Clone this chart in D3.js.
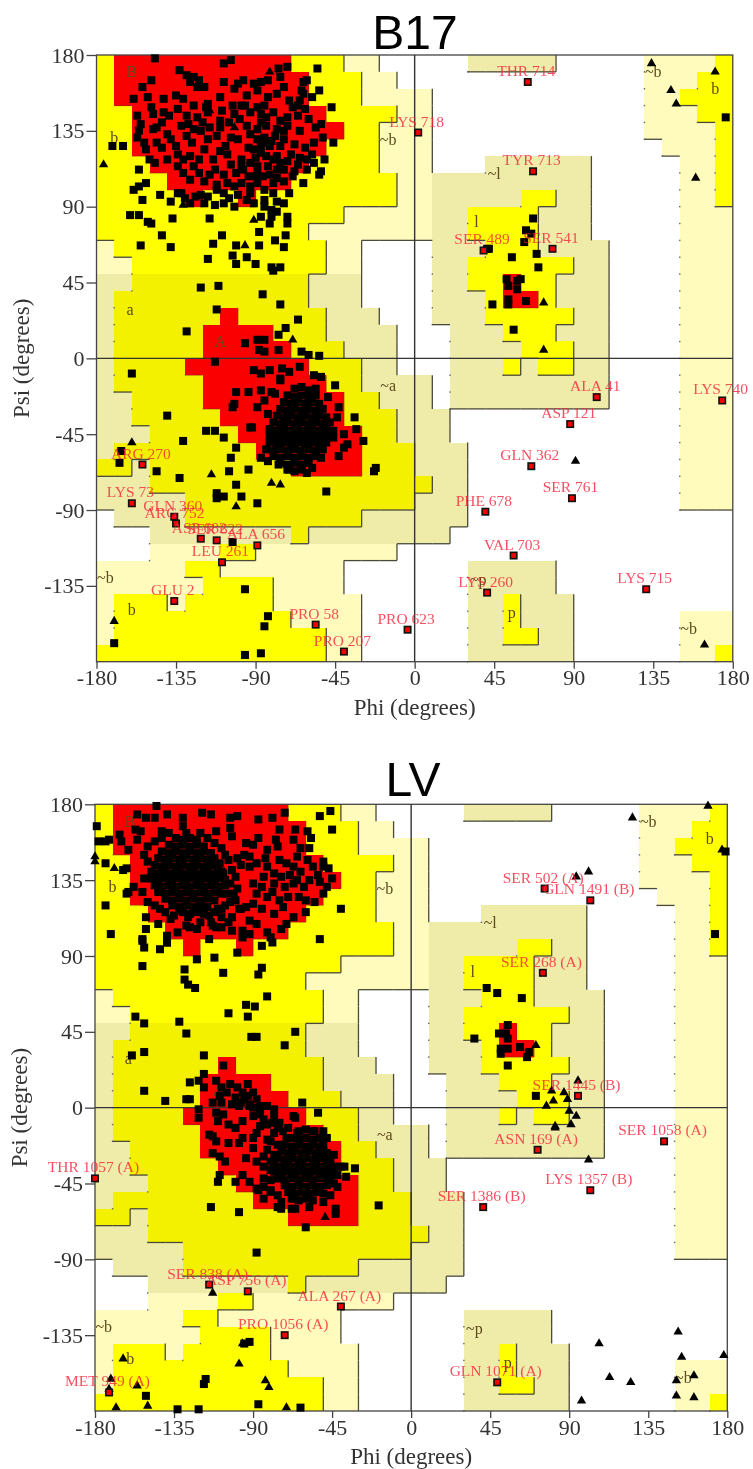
<!DOCTYPE html>
<html>
<head>
<meta charset="utf-8">
<title>Ramachandran plots B17 and LV</title>
<script src="https://cdn.jsdelivr.net/npm/d3@7/dist/d3.min.js"></script>
<style>
  body { margin: 0; background: #fff; }
  svg { display: block; filter: blur(0.4px); }
  text { font-family: "Liberation Serif", serif; }
</style>
</head>
<body>
<svg id="chart" width="753" height="1469"></svg>
<script>
// region map, one row for every 10 degrees of psi (170 at the top, -180 at the bottom)
// . disallowed  p generous  q generous (tinted)  y allowed  o allowed (tinted)  r core
let regionRows = [
  'yrrrrrrrrrryyypp..' + '...qqqqq.....ppppy',
  'yrrrrrrrrrrryyypp.' + '.............pppyy',
  'yrrrrrrrrrrryyyppp' + 'p............ppyyy',
  'yyrrrrrrrrrrryyyyp' + 'p............pppyy',
  'yyrrrrrrrrrrrryypp' + 'p............ppppy',
  'yyrrrrrrrrrrryyypp' + 'p.............pppy',
  'yyyrrrrrrrrryyyypp' + 'p...qqqqqq.....ppy',
  'yyyyrrrrrrryyyyyyp' + 'pqqqqqqqqq.....ppy',
  'yyyyyryyryyyyyyyyp' + 'pqqqqqyyqq.....ppy',
  'yyyyyyyyyyyyyypppp' + 'pqqyyyyqqq.....ppp',
  'yyyyyyyyyyyypppppp' + 'pqqyyyyqqq.....ppp',
  'pyyyyyyyyyyyypp...' + '.qqqyyyqqqq....ppp',
  'ppyyyyyyyyyyypp...' + '.qqyyyyyyqq....ppp',
  'qqooooooooooqqq...' + '.qqyyryyqqq....ppp',
  'qoooooooooooqqq...' + '.qqqyrryqqq....ppp',
  'qooooooroooooqqq..' + '.qqqyyyyyqq....ppp',
  'qooooorrrroooqqqq.' + '..qqqyyyqqq....ppp',
  'qooooorrrrroooqqq.' + '..qqqqyyyqq....ppp',
  'qoooorrrrrrroooqq.' + '..qqqyqyyqq....ppp',
  'qooooorrrrrrrooqqq' + 'q.qqqqqqqqq....ppp',
  'qqoooorrrrrrrrooqq' + 'q.qqqqqqqqq....ppp',
  'qqooooorrrrrrroooq' + 'qq.............ppp',
  'qqqooooorrrrrrrooq' + 'qq.............ppp',
  'qoooooooorrrrrrooo' + 'qqq............ppp',
  'ooqoooooooorrrrooo' + 'qqq............ppp',
  'qqqooooooooooooooo' + 'oqq............ppp',
  'qqqqqooooooooooooo' + 'qqq............ppp',
  '.qqqqooooooooooqqq' + 'qqq...............',
  '...qqqqqqqqoqqqqqq' + 'qq................',
  '...ppppyypppppppp.' + '..................',
  'pppppyyppppppp....' + '...qqqqq..........',
  'ppppppyyyypppp....' + '...qqqqq..........',
  'pyyypyyyyyppppp...' + '...qqyqqq.........',
  'pyyyyyyyyyypppp...' + '...qqyqqq......ppp',
  'pyyyyyyyyyyyypp...' + '...qqyyqq......ppp',
  'yyyyyyyyyyyyypp...' + '...qqqqqq......ppy'
]
let regionColors = { p: '#fefbbd', q: '#efeba9', y: '#ffff00', o: '#f3f000', r: '#fb0000' }
let regionLevels = { '.': 0, p: 1, q: 1, y: 2, o: 2, r: 3 }

let phiTicks = [-180, -135, -90, -45, 0, 45, 90, 135, 180]
let psiTicks = [180, 135, 90, 45, 0, -45, -90, -135]

let regionLabels = [
  ['B', -160, 170], ['b', -170, 131], ['a', -161, 29], ['A', -110, 10], ['~b', -15, 130], ['~a', -15, -16],
  ['~b', -175, -130], ['b', -160, -149], ['l', 35, 81], ['~l', 45, 110], ['~b', 135, 170], ['b', 170, 160],
  ['p', 55, -151], ['~p', 36, -131], ['~b', 155, -160]
]

// B17 residues [phi, psi]
let b17Squares = [
  [-55,172],[-47,149],[-46,128],[-171,126],[-165,126],[-156,112],[-152,104],[-156,102],[-159,100],[-154,94],[-144,97],[-138,93],
  [-161,85],[-156,85],[-151,81],[-149,80],[-137,83],[-143,73],[-155,67],[-138,66],[-116,83],[-109,73],[-114,68],[-101,67],
  [-103,61],[-101,56],[-95,60],[-90,56],[-88,75],[-88,67],[-79,70],[-73,73],[-74,66],[-81,54],[-76,54],[-80,52],[-117,59],
  [-121,42],[-111,43],[-86,38],[-76,32],[-112,29],[-66,23],[-73,18],[-77,14],[-129,16],[-96,9],[-89,11],[-85,11],[-88,5],
  [-85,4],[-77,5],[-64,4],[-60,2],[-54,1.5],[-85,90],[-81,88],[-78,87],[-72,84],[-81,84],[-82,80],[-72,80],[-87,84],
  // beta cloud
  [-147,178],[-108,175],[-104,177],[-133,171],[-77,172],[-72,173],[-149,165],[-129,168],[-125,167],[-122,165],[-76,167],[-63,164],
  [-108,164],[-100,163],[-97,165],[-154,161],[-127,164],[-123,161],[-119,161],[-91,163],[-87,164],[-83,165],[-89,159],[-102,160],
  [-64,159],[-61,165],[-71,153],[-63,157],[-54,159],[-58,155],[-159,154],[-151,155],[-142,154],[-135,156],[-131,154],[-110,155],
  [-118,149],[-117,151],[-103,150],[-98,150],[-96,150],[-78,157],[-74,161],[-65,153],[-157,144],[-149,149],[-148,145],[-142,146],
  [-139,144],[-129,144],[-117,146],[-109,147],[-87,145],[-80,146],[-72,143],[-66,144],[-89,149],[-85,150],[-155,139],[-156,135],
  [-157,131],[-146,137],[-148,136],[-132,138],[-128,139],[-125,136],[-116,137],[-110,141],[-110,137],[-87,140],[-89,136],[-95,138],
  [-84,138],[-78,136],[-72,138],[-65,135],[-56,137],[-53,139],[-140,133],[-138,130],[-129,132],[-126,128],[-117,130],[-104,131],
  [-100,130],[-89,130],[-85,131],[-79,132],[-74,130],[-57,128],[-52,131],[-82,126],[-76,126],[-150,118],[-147,116],[-140,118],
  [-134,121],[-131,118],[-119,124],[-114,118],[-106,121],[-98,118],[-93,116],[-87,122],[-84,120],[-78,120],[-70,121],[-65,119],
  [-57,116],[-51,118],[-134,114],[-131,110],[-125,114],[-113,112],[-108,109],[-97,112],[-89,111],[-83,114],[-74,112],[-68,111],
  [-53,111],[-54,109],[-119,105],[-112,103],[-102,102],[-98,104],[-93,102],[-89,104],[-80,104],[-74,105],[-63,104],[-69,108],
  [-134,98],[-132,98],[-121,97],[-117,96],[-112,100],[-108,98],[-80,98],[-71,98],[-85,100],[-93,98],[-127,92],[-119,92],[-113,91],
  [-108,92],[-102,90],[-95,94],[-87,126],[-91,124],[-84,128],[-80,118],[-89,114],[-78,112],[-98,114],
  [-93,146],[-84,143],[-76,141],[-69,149],[-62,148],[-93,133],[-81,129],[-74,135],[-68,127],[-62,125],[-94,125],[-90,119],[-76,116],
  [-72,117],[-66,115],[-61,112],[-86,108],[-82,109],[-78,107],[-94,108],[-90,108],[-104,115],[-101,110],[-106,104],[-116,109],
  [-122,110],[-127,106],[-127,120],[-122,118],[-135,126],[-143,125],[-146,128],[-152,124],[-153,128],[-143,140],[-134,148],[-125,150],
  [-123,143],[-120,140],[-121,135],[-112,132],[-107,126],[-110,123],[-102,145],[-105,140],[-99,142],[-95,156],[-83,155],[-66,150],
  [-60,142],[-58,121],[-61,118],[-85,94],[-91,92],[-130,95],[-124,96],[-100,97],[-105,95],[-78,93],[-74,92],
  // alpha region scatter
  [-160,-9],[-113,-2],[-140,-34],[-131,-49],[-118,-43],[-113,-43],[-108,-47],[-101,-20],[-94,-20],[-102,-27],[-103,-29],[-93,-41],
  [-101,-53],[-104,-59],[-105,-67],[-94,-66],[-101,-75],[-112,-80],[-112,-83],[-108,-82],[-98,-82],[-89,-86],[-133,-71],[-146,-67],
  [-50,-79],[-34,-35],[-33,-42],[-29,-49],[-45,-16],[-22,-65],[-23,-67],[-167,-62],[-166,-55],[-103,-109],[-96,-137],[-83,-153],
  [-85,-159],[-96,-176],[-87,-175],[-170,-169],
  [-91,-7],[-87,-9],[-82,-7],[-75,-6],[-71,-8],[-65,-5],[-76,-12],[-87,-19],[-81,-20],[-85,-25],[-89,-29],[-83,-33],[-82,-43],
  [-77,-48],[-82,-49],[-87,-59],[-83,-61],[-77,-63],[-71,-66],[-61,-68],[-58,-65],[-92,-41],[-76,-13],[-79,-21],[-40,-53],[-43,-58],
  [-44,-35],[-40,-45],[-38,-51],[-53,-11],[-57,-10],[-49,-23],[-43,-29],
  // alpha core
  [-68,-18],[-64,-17],[-60,-19],[-56,-18],[-72,-22],[-68,-23],[-64,-22],[-60,-23],[-56,-22],[-74,-26],[-70,-27],[-66,-26],[-62,-27],
  [-58,-26],[-54,-27],[-76,-30],[-72,-31],[-68,-30],[-64,-31],[-60,-30],[-56,-31],[-52,-30],[-78,-34],[-74,-35],[-70,-34],[-66,-35],
  [-62,-34],[-58,-35],[-54,-34],[-50,-35],[-80,-38],[-76,-39],[-72,-38],[-68,-39],[-64,-38],[-60,-39],[-56,-38],[-52,-39],[-48,-38],
  [-82,-42],[-78,-43],[-74,-42],[-70,-43],[-66,-42],[-62,-43],[-58,-42],[-54,-43],[-50,-42],[-46,-43],[-82,-46],[-78,-47],[-74,-46],
  [-70,-47],[-66,-46],[-62,-47],[-58,-46],[-54,-47],[-50,-46],[-46,-47],[-82,-50],[-78,-51],[-74,-50],[-70,-51],[-66,-50],[-62,-51],
  [-58,-50],[-54,-51],[-50,-50],[-84,-54],[-80,-55],[-76,-54],[-72,-55],[-68,-54],[-64,-55],[-60,-54],[-56,-55],[-52,-54],[-80,-58],
  [-76,-59],[-72,-58],[-68,-59],[-64,-58],[-60,-59],[-56,-58],[-53,-59],[-76,-62],[-72,-63],[-68,-62],[-64,-63],[-60,-62],[-72,-66],
  [-68,-67],[-64,-66],
  // right half
  [67,83],[63,76],[66,74],[62,69],[69,62],[42,65],[41,65],[55,60],[70,54],[44,32],[56,17],[52,47],[60,47],[58,46],[53,43],[58,41],
  [53,35],[53,32],[63,34],[176,143]
]
let b17Triangles = [
  [-176,115],[-91,82],[-96,67],[-82,170],[-102,137],[-116,147],[-131,91],[-69,11],[-160,-50],[-115,-69],[-81,-74],[-76,-75],
  [-101,-88],[-170,-156],[73,33],[73,5],[134,175],[170,170],[145,159],[148,151],[159,107],[91,-61],[164,-170]
]
let b17Outliers = [
  ['THR 714',64,164],['LYS 718',2,134],['TYR 713',67,111],['SER 489',39,64],['SER 541',78,65],['ALA 41',103,-23],['ASP 121',88,-39],
  ['GLN 362',66,-64],['SER 761',89,-83],['PHE 678',40,-91],['VAL 703',56,-117],['LYS 260',41,-139],['LYS 715',131,-137],
  ['LYS 740',174,-25],['PRO 623',-4,-161],['ARG 270',-154,-63],['LYS 73',-160,-86],['GLN 360',-136,-94],['ARG 752',-135,-98],
  ['ASP 682',-121,-107],['SER 622',-112,-108],['ALA 656',-89,-111],['LEU 261',-109,-121],['GLU 2',-136,-144],['PRO 58',-56,-158],
  ['PRO 207',-40,-174]
]

// LV residues [phi, psi]
let lvSquares = [
  [-145,179],[-179,167],[-178,158],[-174,158],[-172,159],[-174,145],[-174,120],[-171,103],[-52,173],[-46,176],[-45,165],[-40,118],
  [-52,100],[-85,96],[-85,83],[-87,79],[-107,80],[-112,89],[-122,88],[-129,82],[-129,76],[-127,73],[-123,71],[-153,84],[-153,99],
  [-152,95],[-143,94],[-139,98],[-139,102],[-82,66],[-94,61],[-89,60],[-93,54],[-104,56],[-157,54],[-152,50],[-132,51],[-128,44],
  [-91,42],[-88,42],[-72,37],[-66,45],[-152,33],[-159,31],[-118,31],[-107,25],[-152,10],[-140,4],[-128,5],[-126,5],[-126,15],
  [-121,16],[-118,12],[-118,20],[-62,3],[-53,-3],
  [-55,-14],[-32,-36],[-38,-35],[-37,-41],[-18.5,-58],[-43,-63],[-43,-60],[-60,-71],[-88,-86],[-98,-62],[-114,-59],[-58,-59],
  [-66,-60],[-74,-60],[-76,-59],[-84,-54],[-88,-48],[-80,-49],
  [-92,-139],[-95,-140],[-117,-161],[-118,-164],[-151,-171],[-133,-179],[-121,-179],[-87,-176],[-63,-178],
  // alpha diagonal
  [-121,-1],[-121,-6],[-111,-3],[-107,-4],[-98,1],[-92,2],[-86,0],[-90,-5],[-84,-7],[-78,-5],[-75,-9],[-66,-6],[-65,-15],[-78,-15],
  [-82,-19],[-88,-15],[-86,-11],[-96,-18],[-98,-21],[-104,-21],[-113,-17],[-115,-16],[-111,-20],[-90,-24],[-113,-27],[-109,-29],
  [-106,-32],[-109,-40],[-110,-44],[-100,-44],[-88,-32],[-84,-35],[-80,-37],[-87,-49],[-80,-50],[-66,-54],
  [-111,16],[-108,12],[-103,14],[-99,12],[-93,14],[-90,9],[-96,9],[-88,5],[-93,7],[-82,1],[-78,-1],[-113,3],[-108,3],[-102,2],
  [-109,7],[-97,3],[-86,1],[-92,1],[-67,-5],
  [-105,9],[-100,6],[-95,5],[-90,0],[-86,-4],[-82,-10],[-79,-9],[-76,-12],[-73,-14],[-80,-20],[-76,-22],[-82,-25],[-84,-29],[-78,-28],
  [-80,-32],[-84,-42],[-80,-43],[-84,-47],[-71,-18],[-70,-12],[-96,-8],[-100,-12],[-104,-10],[-110,-8],[-90,-18],[-94,-30],[-96,-40],[-92,-44],
  [-44,-45],[-42,-40],[-44,-28],[-48,-18],[-50,-14],[-76,-52],[-74,-56],[-68,-60],[-50,-56],[-46,-52],[-42,-47],[-40,-35],
  // alpha core
  [-64,-14],[-60,-13],[-56,-14],[-68,-18],[-64,-19],[-60,-18],[-56,-19],[-52,-18],[-72,-22],[-68,-23],[-64,-22],[-60,-23],[-56,-22],
  [-52,-23],[-50,-22],[-74,-26],[-70,-27],[-66,-26],[-62,-27],[-58,-26],[-54,-27],[-50,-26],[-48,-27],[-76,-30],[-72,-31],[-68,-30],
  [-64,-31],[-60,-30],[-56,-31],[-52,-30],[-48,-31],[-46,-30],[-78,-34],[-74,-35],[-70,-34],[-66,-35],[-62,-34],[-58,-35],[-54,-34],
  [-50,-35],[-46,-34],[-44,-35],[-78,-38],[-74,-39],[-70,-38],[-66,-39],[-62,-38],[-58,-39],[-54,-38],[-50,-39],[-46,-38],[-44,-39],
  [-76,-42],[-72,-43],[-68,-42],[-64,-43],[-60,-42],[-56,-43],[-52,-42],[-48,-43],[-46,-42],[-72,-46],[-68,-47],[-64,-46],[-60,-47],
  [-56,-46],[-52,-47],[-48,-46],[-70,-50],[-66,-51],[-62,-50],[-58,-51],[-54,-50],[-50,-51],[-68,-54],[-64,-55],[-60,-54],[-56,-55],
  // beta core
  [-134,160],[-130,159],[-126,160],[-122,159],[-138,156],[-134,155],[-130,156],[-126,155],[-122,156],[-118,155],[-142,152],[-138,151],
  [-134,152],[-130,151],[-126,152],[-122,151],[-118,152],[-114,151],[-144,148],[-140,147],[-136,148],[-132,147],[-128,148],[-124,147],
  [-120,148],[-116,147],[-112,148],[-146,144],[-142,143],[-138,144],[-134,143],[-130,144],[-126,143],[-122,144],[-118,143],[-114,144],
  [-110,143],[-148,140],[-144,139],[-140,140],[-136,139],[-132,140],[-128,139],[-124,140],[-120,139],[-116,140],[-112,139],[-108,140],
  [-148,136],[-144,135],[-140,136],[-136,135],[-132,136],[-128,135],[-124,136],[-120,135],[-116,136],[-112,135],[-108,136],[-106,135],
  [-146,132],[-142,131],[-138,132],[-134,131],[-130,132],[-126,131],[-122,132],[-118,131],[-114,132],[-110,131],[-106,132],[-144,128],
  [-140,127],[-136,128],[-132,127],[-128,128],[-124,127],[-120,128],[-116,127],[-112,128],[-108,127],[-140,124],[-136,123],[-132,124],
  [-128,123],[-124,124],[-120,123],[-116,124],[-112,123],[-136,120],[-132,119],[-128,120],[-124,119],[-120,120],[-116,119],[-130,116],
  [-126,115],[-122,116],[-118,115],
  // rest of the beta region
  [-156,174],[-151,172],[-146,172],[-139,174],[-130,172],[-119,175],[-114,174],[-103,172],[-99,173],[-87,171],[-79,172],[-72,175],
  [-166,162],[-165,158],[-161,153],[-157,165],[-154,164],[-156,159],[-142,164],[-130,167],[-111,164],[-103,166],[-102,161],[-75,165],
  [-66,165],[-59,164],[-57,160],[-67,159],[-87,160],[-90,156],[-94,157],[-77,159],[-76,155],[-82,153],[-83,148],[-99,148],[-97,144],
  [-92,143],[-58,154],[-63,154],[-50,146],[-47,142],[-65,149],[-59,147],[-50,143],[-75,147],[-71,145],[-67,143],[-82,143],[-78,139],
  [-162,142],[-164,141],[-158,131],[-162,127],[-161,128],[-50,127],[-55,122],[-60,123],[-58,135],[-61,131],[-67,133],[-72,131],[-78,133],
  [-84,137],[-90,133],[-88,127],[-82,125],[-75,123],[-67,113],[-78,115],[-90,121],[-94,119],[-97,118],[-100,123],[-107,139],[-103,133],
  [-105,127],[-109,145],
  [-151,113],[-151,106],[-144,109],[-135,114],[-132,117],[-127,113],[-133,104],[-126,107],[-115,114],[-118,117],[-114,110],[-108,113],
  [-111,107],[-102,113],[-104,110],[-98,118],[-96,105],[-96,101],[-88,109],[-82,104],[-80,101],[-79,98],[-153,100],[-139,98],[-99,92],
  [-115,100],[-108,107],[-102,105],[-92,111],
  [-152,150],[-150,146],[-152,136],[-153,128],[-150,122],[-146,120],[-143,118],[-140,116],[-137,112],[-150,155],[-146,158],[-142,160],
  [-138,163],[-128,163],[-120,163],[-116,160],[-112,157],[-108,154],[-106,150],[-104,147],[-102,141],[-100,137],[-99,130],[-101,127],
  [-103,122],[-106,120],[-108,118],[-110,118],[-112,116],[-113,108],[-120,110],[-122,106],[-128,108],[-95,150],[-92,149],[-88,145],
  [-85,131],[-79,128],[-74,137],[-69,138],[-65,135],[-63,140],[-56,143],[-53,138],[-45,136],[-48,131],[-52,134],[-70,125],[-73,119],
  [-64,125],[-60,116],[-71,109],[-74,106],[-85,118],[-92,103],
  // right half
  [43,71],[49,68],[63,65],[36,41],[55,25],[71,7],[55,49],[50,44],[54,44],[55,41],[51,35],[55,35],[51,32],[62,36],[66,30],[67,33],
  [179,152],[173,103]
]
let lvTriangles = [
  [-180,149],[-180,146],[-169,142],[-49,-65],[-113,-110],[-164,-149],[-98,-152],[-83,-162],[-81,-166],[-156,-165],[-171,-161],
  [-172,-167],[-168,-178],[-150,-177],[-71,-178],[-96,-140],
  [71,37],[95,16],[80,10],[87,9],[89,5],[81,4],[77,1],[90,-2],[94,-5],[91,-10],[82,-11],[126,172],[169,179],[94,137],[101,140],[177,153],
  [82,-12],[101,-31],[152,-133],[107,-140],[154,-148],[178,-147],[161,-159],[151,-162],[113,-160],[125,-163],[151,-171],[161,-172],[97,-174]
]
let lvOutliers = [
  ['SER 502 (A)',76,130],['GLN 1491 (B)',102,123],['SER 268 (A)',75,80],['SER 1445 (B)',95,7],['ASN 169 (A)',72,-25],
  ['SER 1058 (A)',144,-20],['LYS 1357 (B)',102,-49],['SER 1386 (B)',41,-59],['GLN 1071 (A)',49,-163],['THR 1057 (A)',-180,-42],
  ['SER 838 (A)',-115,-105],['ASP 756 (A)',-93,-109],['ALA 267 (A)',-40,-118],['PRO 1056 (A)',-72,-135],['MET 949 (A)',-172,-169]
]

let svg = d3.select('#chart')
let triangle = d3.symbol().type(d3.symbolTriangle).size(38)

let drawPanel = (panel) => {
  let x = d3.scaleLinear().domain([-180, 180]).range([panel.left, panel.right])
  let y = d3.scaleLinear().domain([180, -180]).range([panel.top, panel.bottom])
  let g = svg.append('g')

  // flatten the region rows to cells
  let cells = []
  regionRows.forEach((row, r) => {
    row.split('').forEach((code, c) => {
      cells.push({ code: code, phi: -180 + c * 10, psi: 170 - r * 10, r: r, c: c })
    })
  })
  let levelAt = (r, c) => {
    if (r > 35 || c > 35 || c < 0) return 0
    return regionLevels[regionRows[r][c]]
  }

  g.selectAll('rect.cell')
    .data(cells.filter(d => d.code != '.'))
    .enter()
    .append('rect')
    .attr('class', 'cell')
    .attr('x', d => x(d.phi))
    .attr('y', d => y(d.psi + 10))
    .attr('width', d => x(d.phi + 10) - x(d.phi))
    .attr('height', d => y(d.psi) - y(d.psi + 10))
    .attr('fill', d => regionColors[d.code])
    .attr('shape-rendering', 'crispEdges')

  // small dots down the left edge of a region
  g.selectAll('rect.dot')
    .data(cells.filter(d => levelAt(d.r, d.c) > levelAt(d.r, d.c - 1) && d.c > 0 && levelAt(d.r, d.c) < 3))
    .enter()
    .append('rect')
    .attr('class', 'dot')
    .attr('x', d => x(d.phi) - 0.7)
    .attr('y', d => y(d.psi) - 0.7)
    .attr('width', 1.4)
    .attr('height', 1.4)
    .attr('fill', '#666')

  // dark edges where the level falls going right or going down
  let edges = []
  cells.forEach(d => {
    let level = levelAt(d.r, d.c)
    if (level == 0) return
    if (d.c < 35 && level > levelAt(d.r, d.c + 1)) {
      edges.push({ x1: d.phi + 10, y1: d.psi + 10, x2: d.phi + 10, y2: d.psi, core: level == 3 })
    }
    if (d.r < 35 && level > levelAt(d.r + 1, d.c)) {
      edges.push({ x1: d.phi, y1: d.psi, x2: d.phi + 10, y2: d.psi, core: level == 3 })
    }
  })
  g.selectAll('line.edge')
    .data(edges)
    .enter()
    .append('line')
    .attr('class', 'edge')
    .attr('x1', d => x(d.x1))
    .attr('y1', d => y(d.y1))
    .attr('x2', d => x(d.x2))
    .attr('y2', d => y(d.y2))
    .attr('stroke', d => d.core ? '#a02020' : '#4a4a3a')
    .attr('stroke-opacity', d => d.core ? 0.5 : 1)
    .attr('stroke-width', 1.3)

  // frame and the two zero lines
  g.append('rect')
    .attr('x', x(-180))
    .attr('y', y(180))
    .attr('width', x(180) - x(-180))
    .attr('height', y(-180) - y(180))
    .attr('fill', 'none')
    .attr('stroke', '#444')
    .attr('stroke-width', 1.3)
  g.append('line')
    .attr('x1', x(0)).attr('x2', x(0))
    .attr('y1', y(180)).attr('y2', y(-180))
    .attr('stroke', '#333').attr('stroke-width', 1.4)
  g.append('line')
    .attr('x1', x(-180)).attr('x2', x(180))
    .attr('y1', y(0)).attr('y2', y(0))
    .attr('stroke', '#333').attr('stroke-width', 1.4)

  // axes
  let xAxis = d3.axisBottom(x).tickValues(phiTicks).tickSize(7).tickPadding(1).tickFormat(d => String(d))
  let yAxis = d3.axisLeft(y).tickValues(psiTicks).tickSize(10).tickPadding(2).tickFormat(d => String(d))
  let xGroup = g.append('g').attr('transform', 'translate(0,' + y(-180) + ')').call(xAxis)
  let yGroup = g.append('g').attr('transform', 'translate(' + x(-180) + ',0)').call(yAxis)
  ;[xGroup, yGroup].forEach(a => {
    a.select('.domain').remove()
    a.selectAll('line').attr('stroke', '#444').attr('stroke-width', 1.3)
    a.selectAll('text').attr('fill', '#333').style('font-size', '22px').style('font-family', '"Liberation Serif", serif')
  })

  // region letters
  g.selectAll('text.region')
    .data(regionLabels)
    .enter()
    .append('text')
    .attr('class', 'region')
    .attr('x', d => x(d[1]))
    .attr('y', d => y(d[2]))
    .attr('dy', '0.35em')
    .attr('text-anchor', 'middle')
    .attr('font-size', 16)
    .attr('fill', '#5c4a1c')
    .text(d => d[0])

  // residues
  g.selectAll('rect.square')
    .data(panel.squares)
    .enter()
    .append('rect')
    .attr('class', 'square')
    .attr('x', d => x(d[0]) - 4)
    .attr('y', d => y(d[1]) - 4)
    .attr('width', 8)
    .attr('height', 8)
    .attr('fill', '#000')

  g.selectAll('path.triangle')
    .data(panel.triangles)
    .enter()
    .append('path')
    .attr('class', 'triangle')
    .attr('transform', d => 'translate(' + x(d[0]) + ',' + y(d[1]) + ')')
    .attr('d', triangle)
    .attr('fill', '#000')

  // outliers: red square with a black border and its name above
  g.selectAll('rect.outlier')
    .data(panel.outliers)
    .enter()
    .append('rect')
    .attr('class', 'outlier')
    .attr('x', d => x(d[1]) - 3.2)
    .attr('y', d => y(d[2]) - 3.2)
    .attr('width', 6.4)
    .attr('height', 6.4)
    .attr('fill', '#f00000')
    .attr('stroke', '#111')
    .attr('stroke-width', 1.6)

  g.selectAll('text.outlier-label')
    .data(panel.outliers)
    .enter()
    .append('text')
    .attr('class', 'outlier-label')
    .attr('x', d => x(d[1]) - 1.5)
    .attr('y', d => y(d[2]) - 6)
    .attr('text-anchor', 'middle')
    .attr('font-size', 15.5)
    .attr('fill', '#f5233a')
    .attr('fill-opacity', 0.8)
    .text(d => d[0])

  // titles
  g.append('text')
    .attr('x', panel.titleX)
    .attr('y', panel.titleY)
    .attr('text-anchor', 'middle')
    .style('font-family', '"Liberation Sans", sans-serif')
    .style('font-size', '48px')
    .attr('fill', '#000')
    .text(panel.title)

  g.append('text')
    .attr('x', x(0))
    .attr('y', y(-180) + 53)
    .attr('text-anchor', 'middle')
    .attr('font-size', 23)
    .attr('fill', '#333')
    .text('Phi (degrees)')

  g.append('text')
    .attr('transform', 'translate(' + (panel.left - 68) + ',' + y(0) + ') rotate(-90)')
    .attr('text-anchor', 'middle')
    .attr('font-size', 23)
    .attr('fill', '#333')
    .text('Psi (degrees)')
}

drawPanel({ title: 'B17', titleX: 415, titleY: 49, left: 96.5, right: 732.8, top: 55, bottom: 661.7,
  squares: b17Squares, triangles: b17Triangles, outliers: b17Outliers })
drawPanel({ title: 'LV', titleX: 413, titleY: 796, left: 95, right: 727.3, top: 804.3, bottom: 1411,
  squares: lvSquares, triangles: lvTriangles, outliers: lvOutliers })
</script>
</body>
</html>
